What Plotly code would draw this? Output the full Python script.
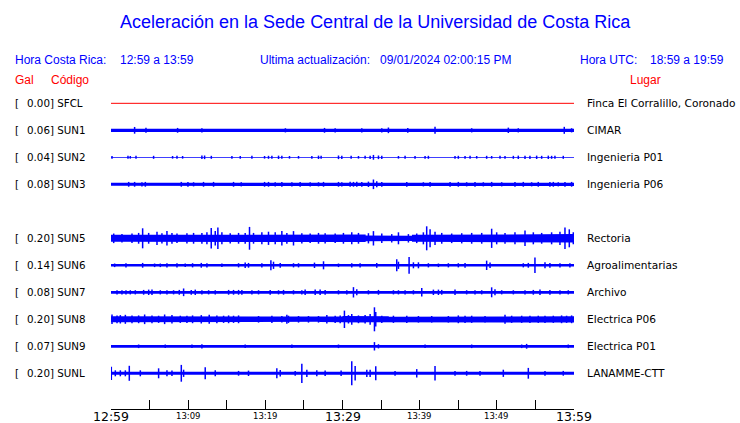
import plotly.graph_objects as go

# ---------------- data ----------------
stations = ["SFCL", "SUN1", "SUN2", "SUN3", "SUN5", "SUN6", "SUN7", "SUN8", "SUN9", "SUNL"]
peak_gal = [0.00, 0.06, 0.04, 0.08, 0.20, 0.14, 0.08, 0.20, 0.07, 0.20]
places = ["Finca El Corralillo, Coronado", "CIMAR", "Ingenieria P01", "Ingenieria P06",
          "Rectoria", "Agroalimentarias", "Archivo", "Electrica P06", "Electrica P01", "LANAMME-CTT"]

tick_minutes = [0, 10, 20, 30, 40, 50, 60]
tick_labels = ["12:59", "13:09", "13:19", "13:29", "13:39", "13:49", "13:59"]
tick_major = [True, False, False, True, False, False, True]

# background band half-amplitude (Gal), 3-minute blocks (20 blocks over 60 min)
band_SFCL = [0.0] * 20
band_SUN1 = [0.028, 0.026, 0.024, 0.024, 0.024, 0.023, 0.024, 0.025, 0.024, 0.025,
             0.026, 0.025, 0.026, 0.024, 0.026, 0.024, 0.024, 0.026, 0.024, 0.026]
band_SUN2 = [0.007] * 20
band_SUN3 = [0.026, 0.026, 0.025, 0.025, 0.026, 0.025, 0.025, 0.025, 0.026, 0.025,
             0.026, 0.027, 0.025, 0.025, 0.026, 0.025, 0.026, 0.026, 0.026, 0.027]
band_SUN5 = [0.058, 0.062, 0.062, 0.058, 0.07, 0.062, 0.062, 0.07, 0.058, 0.058,
             0.062, 0.048, 0.043, 0.058, 0.062, 0.058, 0.066, 0.062, 0.066, 0.07]
band_SUN6 = [0.021] * 20
band_SUN7 = [0.023] * 20
band_SUN8 = [0.05, 0.05, 0.05, 0.048, 0.05, 0.048, 0.042, 0.045, 0.042, 0.045,
             0.055, 0.05, 0.042, 0.042, 0.045, 0.045, 0.045, 0.045, 0.045, 0.052]
band_SUN9 = [0.023] * 20
band_SUNL = [0.024] * 20

# spikes: time (minutes after 12:59) and peak amplitude (Gal)
spk_t_SFCL = []
spk_a_SFCL = []
spk_t_SUN1 = [3.06, 4.53, 8.63, 11.78, 22.6, 27.67, 29.05, 32.5, 35.09, 35.95, 38.46, 41.99,
              46.74, 51.49, 52.78, 58.74, 59.69]
spk_a_SUN1 = [0.056, 0.042, 0.04, 0.035, 0.035, 0.04, 0.035, 0.035, 0.035, 0.047, 0.04, 0.058,
              0.035, 0.045, 0.035, 0.058, 0.035]
spk_t_SUN2 = [0.13, 2.20, 2.50, 3.24, 5.52, 7.98, 8.55, 9.28, 11.78, 12.13, 13.0, 15.67, 16.75,
              18.26, 19.90, 20.41, 20.85, 21.71, 22.14, 23.13, 24.30, 26.03, 26.89, 27.23, 29.48,
              29.91, 31.12, 32.07, 32.93, 33.58, 34.01, 34.66, 35.09, 37.25, 38.11, 39.40, 40.70,
              41.13, 44.58, 45.01, 45.88, 46.53, 47.39, 48.68, 49.33, 50.41, 51.06, 52.14, 52.78,
              53.65, 54.29, 55.16, 55.81, 56.67, 57.10, 57.53, 58.61]
spk_a_SUN2 = [0.022, 0.025, 0.022, 0.025, 0.025, 0.022, 0.025, 0.022, 0.03, 0.03, 0.025, 0.022,
              0.022, 0.025, 0.022, 0.025, 0.025, 0.028, 0.025, 0.022, 0.022, 0.022, 0.028, 0.025,
              0.03, 0.028, 0.025, 0.022, 0.025, 0.028, 0.04, 0.03, 0.028, 0.022, 0.025, 0.022,
              0.022, 0.025, 0.022, 0.025, 0.022, 0.025, 0.022, 0.025, 0.022, 0.025, 0.022, 0.025,
              0.028, 0.028, 0.028, 0.028, 0.025, 0.028, 0.025, 0.025, 0.025]
spk_t_SUN3 = [2.29, 3.06, 4.01, 4.45, 9.11, 9.97, 10.70, 11.99, 13.29, 15.88, 16.88, 19.90,
              20.41, 21.28, 22.14, 23.44, 24.51, 25.81, 26.89, 27.54, 29.48, 29.91, 30.99, 31.42,
              31.85, 32.50, 33.36, 34.01, 34.44, 35.09, 38.33, 40.48, 41.35, 43.94, 45.01, 46.09,
              47.17, 48.25, 49.33, 50.63, 52.35, 53.43, 54.51, 55.37, 56.88, 57.32, 57.96, 58.83,
              59.69]
spk_a_SUN3 = [0.04, 0.04, 0.035, 0.04, 0.04, 0.04, 0.035, 0.04, 0.04, 0.04, 0.035, 0.04,
              0.04, 0.035, 0.04, 0.035, 0.04, 0.035, 0.035, 0.04, 0.04, 0.035, 0.042, 0.04,
              0.042, 0.04, 0.045, 0.08, 0.05, 0.04, 0.04, 0.035, 0.04, 0.04, 0.04, 0.035,
              0.04, 0.035, 0.04, 0.035, 0.04, 0.04, 0.035, 0.04, 0.04, 0.04, 0.035, 0.04,
              0.04]
spk_t_SUN5 = [0.35, 1.42, 2.72, 3.58, 4.10, 4.88, 5.96, 6.60, 7.25, 7.90, 8.55, 9.84, 10.70,
              11.78, 12.43, 12.99, 13.51, 13.85, 14.37, 15.45, 16.53, 17.39, 17.95, 18.47, 19.55,
              20.41, 21.28, 22.14, 22.79, 23.65, 24.73, 25.81, 26.89, 27.75, 29.05, 30.12, 31.20,
              32.07, 33.36, 34.01, 35.09, 36.38, 37.25, 38.54, 39.62, 40.48, 40.91, 41.35, 41.99,
              42.86, 44.15, 45.45, 46.74, 48.04, 49.33, 49.98, 51.06, 52.35, 53.65, 54.73, 55.81,
              57.10, 58.18, 58.83, 59.39, 59.91]
spk_a_SUN5 = [0.08, 0.07, 0.08, 0.09, 0.167, 0.09, 0.11, 0.085, 0.12, 0.09, 0.08, 0.085, 0.09,
              0.09, 0.10, 0.17, 0.12, 0.18, 0.10, 0.085, 0.09, 0.09, 0.19, 0.09, 0.10,
              0.11, 0.10, 0.12, 0.09, 0.12, 0.085, 0.08, 0.09, 0.085, 0.08, 0.09, 0.10,
              0.09, 0.085, 0.12, 0.08, 0.07, 0.10, 0.07, 0.08, 0.10, 0.20, 0.15, 0.11,
              0.09, 0.08, 0.085, 0.09, 0.09, 0.16, 0.10, 0.09, 0.10, 0.13, 0.10, 0.09,
              0.10, 0.11, 0.18, 0.15, 0.10]
spk_t_SUN6 = [0.47, 1.94, 4.10, 5.65, 6.39, 7.25, 8.55, 9.62, 10.57, 11.70, 12.43, 14.37, 16.53,
              17.39, 17.82, 19.55, 20.72, 21.06, 21.93, 23.65, 24.30, 26.37, 27.54, 29.48, 31.20,
              32.28, 34.44, 37.03, 37.25, 38.63, 39.19, 39.84, 41.13, 42.43, 43.72, 45.01, 45.88,
              48.68, 49.12, 53.43, 54.08, 54.94, 56.24, 56.88, 58.18, 59.47]
spk_a_SUN6 = [0.03, 0.035, 0.04, 0.03, 0.03, 0.035, 0.035, 0.03, 0.035, 0.04, 0.035, 0.03, 0.035,
              0.045, 0.04, 0.035, 0.083, 0.06, 0.04, 0.035, 0.035, 0.045, 0.067, 0.03, 0.035,
              0.035, 0.04, 0.10, 0.06, 0.14, 0.05, 0.05, 0.035, 0.03, 0.035, 0.035, 0.04,
              0.078, 0.045, 0.035, 0.04, 0.13, 0.05, 0.04, 0.035, 0.035]
spk_t_SUN7 = [0.78, 1.42, 1.94, 2.50, 3.15, 4.23, 4.88, 5.31, 6.39, 7.25, 8.11, 8.85, 9.41,
              10.40, 10.92, 11.78, 12.65, 13.51, 15.24, 15.88, 16.53, 16.96, 18.26, 19.12, 20.63,
              21.71, 22.36, 23.65, 24.73, 25.16, 26.46, 27.10, 27.75, 29.48, 30.56, 31.42, 31.85,
              33.36, 34.66, 36.60, 37.25, 38.11, 39.19, 40.27, 41.78, 42.43, 42.86, 44.58, 46.09,
              47.17, 48.04, 49.33, 49.76, 50.63, 52.14, 53.65, 54.73, 55.59, 56.88, 58.18, 59.26]
spk_a_SUN7 = [0.035, 0.035, 0.035, 0.035, 0.035, 0.04, 0.045, 0.045, 0.035, 0.035, 0.035, 0.04,
              0.064, 0.04, 0.045, 0.035, 0.035, 0.035, 0.04, 0.04, 0.04, 0.04, 0.035, 0.035,
              0.04, 0.035, 0.04, 0.035, 0.035, 0.045, 0.045, 0.045, 0.04, 0.035, 0.035, 0.086,
              0.05, 0.035, 0.04, 0.035, 0.035, 0.035, 0.035, 0.07, 0.045, 0.045, 0.04, 0.045,
              0.035, 0.035, 0.035, 0.083, 0.05, 0.035, 0.035, 0.035, 0.04, 0.045, 0.04, 0.035,
              0.035]
spk_t_SUN8 = [0.13, 0.78, 1.21, 1.86, 2.72, 3.58, 4.36, 5.31, 6.17, 6.95, 7.90, 8.98, 9.84,
              10.57, 11.70, 12.73, 13.72, 14.59, 15.24, 15.88, 16.53, 19.12, 20.85, 22.14, 22.79,
              23.00, 24.30, 25.59, 26.89, 27.97, 29.05, 29.70, 30.25, 30.77, 31.20, 32.07, 32.93,
              33.58, 34.14, 34.31, 35.09, 36.60, 38.33, 39.84, 41.56, 43.72, 45.01, 45.88, 46.74,
              48.47, 51.06, 51.92, 53.22, 54.29, 55.37, 56.24, 57.32, 58.39, 59.04, 59.69]
spk_a_SUN8 = [0.08, 0.065, 0.07, 0.075, 0.065, 0.065, 0.08, 0.065, 0.06, 0.08, 0.07, 0.06, 0.06,
              0.065, 0.07, 0.075, 0.065, 0.06, 0.065, 0.06, 0.065, 0.055, 0.06, 0.055, 0.075,
              0.06, 0.055, 0.055, 0.055, 0.07, 0.06, 0.065, 0.145, 0.07, 0.09, 0.065, 0.07,
              0.09, 0.20, 0.12, 0.06, 0.06, 0.06, 0.055, 0.055, 0.055, 0.065, 0.06, 0.06,
              0.055, 0.075, 0.06, 0.06, 0.06, 0.06, 0.06, 0.06, 0.065, 0.06, 0.065]
spk_t_SUN9 = [3.58, 7.03, 10.49, 11.78, 17.39, 23.44, 29.48, 34.14, 34.66, 40.70, 46.74, 53.22,
              53.86, 59.26]
spk_a_SUN9 = [0.03, 0.03, 0.03, 0.035, 0.03, 0.03, 0.03, 0.07, 0.035, 0.03, 0.03, 0.03,
              0.04, 0.03]
spk_t_SUNL = [0.04, 0.56, 1.21, 1.86, 2.37, 3.80, 6.17, 7.25, 7.90, 9.11, 9.41, 12.21, 13.51,
              16.53, 17.82, 21.49, 21.93, 23.87, 24.73, 25.38, 26.67, 27.75, 29.82, 31.20, 31.64,
              33.15, 33.58, 34.31, 36.81, 39.62, 41.99, 44.58, 46.09, 47.82, 50.84, 54.08, 56.24,
              58.61]
spk_a_SUNL = [0.11, 0.05, 0.05, 0.05, 0.125, 0.05, 0.083, 0.05, 0.045, 0.14, 0.06, 0.10, 0.05,
              0.04, 0.045, 0.083, 0.055, 0.04, 0.16, 0.06, 0.05, 0.045, 0.045, 0.20, 0.12,
              0.06, 0.06, 0.117, 0.04, 0.07, 0.122, 0.04, 0.04, 0.04, 0.06, 0.09, 0.04,
              0.04]

bands = [band_SFCL, band_SUN1, band_SUN2, band_SUN3, band_SUN5, band_SUN6, band_SUN7,
         band_SUN8, band_SUN9, band_SUNL]
spk_t = [spk_t_SFCL, spk_t_SUN1, spk_t_SUN2, spk_t_SUN3, spk_t_SUN5, spk_t_SUN6, spk_t_SUN7,
         spk_t_SUN8, spk_t_SUN9, spk_t_SUNL]
spk_a = [spk_a_SFCL, spk_a_SUN1, spk_a_SUN2, spk_a_SUN3, spk_a_SUN5, spk_a_SUN6, spk_a_SUN7,
         spk_a_SUN8, spk_a_SUN9, spk_a_SUNL]

# ---------------- layout constants ----------------
W, H = 740, 423
ML, MR, MT, MB = 111, 166, 90, 14
PW, PH = W - ML - MR, H - MT - MB
ROW_GAL = 0.45            # vertical spacing between rows (Gal units)
row_index = [0, 1, 2, 3, 5, 6, 7, 8, 9, 10]
Y_TOP, Y_BOT = 0.222, -5.095
BLUE = "rgb(0,0,255)"
RED = "rgb(255,0,0)"


def px(x):
    return (x - ML) / PW


def py(y):
    return (H - MB - y) / PH


fig = go.Figure()

for i, st in enumerate(stations):
    c = -row_index[i] * ROW_GAL
    band = bands[i]
    nb = len(band)
    step = 60.0 / nb
    if peak_gal[i] == 0:
        fig.add_trace(go.Scatter(x=[0, 60], y=[c, c], mode="lines",
                                 line=dict(color=RED, width=1), hoverinfo="skip"))
        continue
    xs_up, ys_up = [], []
    for k, b in enumerate(band):
        xs_up += [k * step, (k + 1) * step]
        ys_up += [c + b, c + b]
    xs_dn = xs_up[::-1]
    ys_dn = [2 * c - v for v in ys_up[::-1]]
    fig.add_trace(go.Scatter(x=xs_up + xs_dn, y=ys_up + ys_dn, mode="lines", fill="toself",
                             fillcolor=BLUE, line=dict(color=BLUE, width=0),
                             hoverinfo="skip"))
    sx, sy = [], []
    for t, a in zip(spk_t[i], spk_a[i]):
        sx += [t, t, None]
        sy += [c - a, c + a, None]
    fig.add_trace(go.Scatter(x=sx, y=sy, mode="lines", line=dict(color=BLUE, width=1.5),
                             hoverinfo="skip", connectgaps=False))

ann = []
HDR = "Liberation Sans"
LBL = "DejaVu Sans"


def text(s, x, y, size, color, font, anchor="left"):
    ann.append(dict(text=s, x=px(x), y=py(y), xref="paper", yref="paper", showarrow=False,
                    xanchor=anchor, yanchor="middle", borderpad=0, borderwidth=0,
                    font=dict(family=font, size=size, color=color)))


text("Aceleración en la Sede Central de la Universidad de Costa Rica", 375, 22, 18, BLUE, HDR,
     "center")
text("Hora Costa Rica:", 15, 60, 12, BLUE, HDR)
text("12:59 a 13:59", 120, 60, 12, BLUE, HDR)
text("Ultima actualización:", 260, 60, 12, BLUE, HDR)
text("09/01/2024 02:00:15 PM", 380, 60, 12, BLUE, HDR)
text("Hora UTC:", 580, 60, 12, BLUE, HDR)
text("18:59 a 19:59", 650, 60, 12, BLUE, HDR)
text("Gal", 15, 80, 12, RED, HDR)
text("Código", 51, 80, 12, RED, HDR)
text("Lugar", 630, 80, 12, RED, HDR)

for i, st in enumerate(stations):
    yc = 103.3 + row_index[i] * 27
    text("[", 14.5, yc, 10.3, "black", LBL)
    text(f"{peak_gal[i]:.2f}]\u00a0{st}", 27, yc, 10.3, "black", LBL)
    text(places[i], 587, yc, 10.6, "black", LBL)

for m, lab, major in zip(tick_minutes, tick_labels, tick_major):
    ann.append(dict(text=lab, x=m, y=py(416), xref="x", yref="paper", showarrow=False,
                    xanchor="center", yanchor="middle", borderpad=0, borderwidth=0,
                    font=dict(family=LBL, size=12.5 if major else 8.5, color="black")))

fig.update_layout(
    width=W, height=H, margin=dict(l=ML, r=MR, t=MT, b=MB, pad=0),
    paper_bgcolor="white", plot_bgcolor="white", showlegend=False,
    annotations=ann,
    xaxis=dict(range=[0, 60], showgrid=False, zeroline=False, showline=True,
               linecolor="black", linewidth=1, ticks="inside", ticklen=9, tickwidth=1,
               tickcolor="black", tick0=0, dtick=5, showticklabels=False, fixedrange=True),
    yaxis=dict(range=[Y_BOT, Y_TOP], visible=False, fixedrange=True),
)

fig.write_html("out.html", config={"displayModeBar": False},
               post_script="document.body.style.margin='0px';document.body.style.overflow='hidden';")
